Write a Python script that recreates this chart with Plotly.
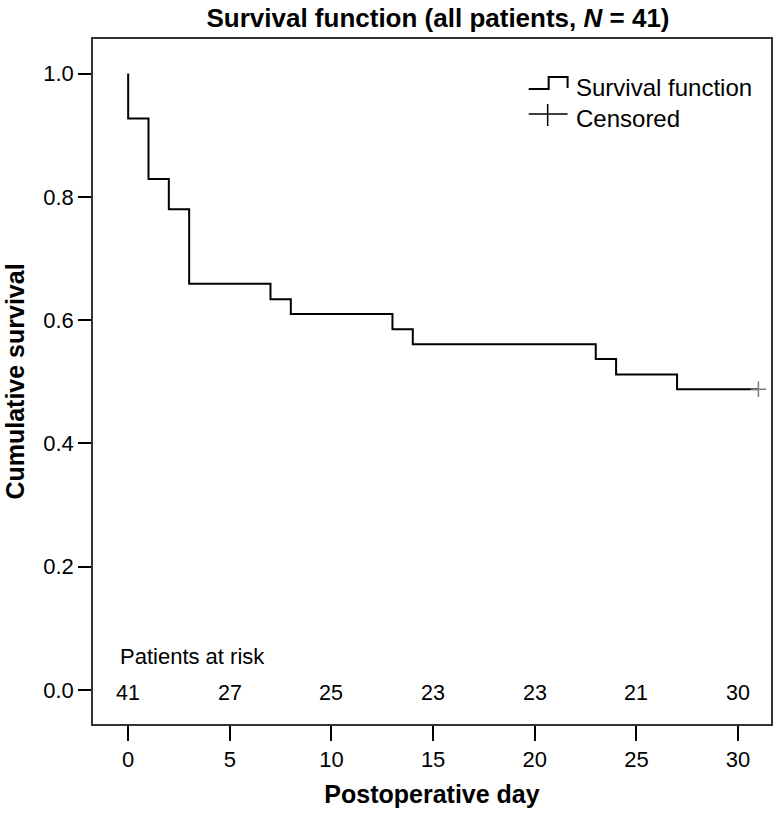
import plotly.graph_objects as go

# Data
days = [0, 0, 1, 2, 3, 7, 8, 13, 14, 23, 24, 27, 31]
survival = [1.0, 0.927, 0.829, 0.780, 0.659, 0.634, 0.610, 0.585, 0.561, 0.537, 0.512, 0.488, 0.488]
censored_days = [31]
censored_surv = [0.488]
risk_days = [0, 5, 10, 15, 20, 25, 30]
risk_counts = ["41", "27", "25", "23", "23", "21", "30"]
x_ticks = [0, 5, 10, 15, 20, 25, 30]
y_ticks = [0.0, 0.2, 0.4, 0.6, 0.8, 1.0]

FONT = "Liberation Sans, Arial, Helvetica, sans-serif"

# plot-area geometry in pixels
L, R, T, B = 93, 773, 39, 724
W, H = 780, 813

fig = go.Figure()
fig.add_trace(go.Scatter(x=days, y=survival, mode="lines", line=dict(shape="hv", color="black", width=2),
                         showlegend=False, hoverinfo="skip"))
fig.add_trace(go.Scatter(x=censored_days, y=censored_surv, mode="markers",
                         marker=dict(symbol="cross-thin", size=11, line=dict(color="#7a7a7a", width=1.5)),
                         showlegend=False, hoverinfo="skip"))

# Patients at risk
for d, c in zip(risk_days, risk_counts):
    fig.add_annotation(x=d, y=0, xref="x", yref="y", text=c, showarrow=False, yshift=-3,
                       xanchor="center", yanchor="middle", font=dict(family=FONT, size=21.5, color="black"))
fig.add_annotation(x=-0.5, y=0.055, xref="x", yref="y", text="Patients at risk", showarrow=False,
                   xanchor="left", yanchor="middle", font=dict(family=FONT, size=22, color="black"))

# Legend (drawn manually)
def px2paper(px, py):
    return (px - L) / (R - L), (B - py) / (B - T)

pts = [(530, 89), (550, 89), (550, 77), (569, 77), (569, 88)]
path = ""
for i, (a, b) in enumerate(pts):
    xx, yy = px2paper(a, b)
    path += ("M" if i == 0 else "L") + f"{xx},{yy} "
fig.add_shape(type="path", path=path, xref="paper", yref="paper", line=dict(color="black", width=2))
x0, y0 = px2paper(530, 114)
x1, _ = px2paper(569, 114)
fig.add_shape(type="line", x0=x0, x1=x1, y0=y0, y1=y0, xref="paper", yref="paper", line=dict(color="black", width=1.5))
xc, ya = px2paper(549, 104)
_, yb = px2paper(549, 126)
fig.add_shape(type="line", x0=xc, x1=xc, y0=ya, y1=yb, xref="paper", yref="paper", line=dict(color="black", width=1.5))
tx, ty1 = px2paper(575, 87)
_, ty2 = px2paper(575, 118)
fig.add_annotation(x=tx, y=ty1, xref="paper", yref="paper", text="Survival function", showarrow=False,
                   xanchor="left", yanchor="middle", font=dict(family=FONT, size=24, color="black"))
fig.add_annotation(x=tx, y=ty2, xref="paper", yref="paper", text="Censored", showarrow=False,
                   xanchor="left", yanchor="middle", font=dict(family=FONT, size=24, color="black"))

fig.update_layout(
    width=W, height=H,
    margin=dict(l=L, r=W - R, t=T, b=H - B, pad=0),
    plot_bgcolor="white", paper_bgcolor="white",
    title=dict(text="<b>Survival function (all patients, <i>N</i> = 41)</b>", x=438 / W, xanchor="center",
               y=1 - 18 / H, yanchor="middle", font=dict(family=FONT, size=26, color="black")),
    xaxis=dict(range=[-1.73, 31.62], tickvals=x_ticks, ticks="outside", ticklen=15, tickwidth=1.5,
               tickcolor="black", showline=True, linecolor="#333333", linewidth=1.5, mirror=True,
               showgrid=False, zeroline=False,
               tickfont=dict(family=FONT, size=22, color="black"),
               title=dict(text="<b>Postoperative day</b>", font=dict(family=FONT, size=25, color="black"), standoff=14)),
    yaxis=dict(range=[-0.0551, 1.056], tickvals=y_ticks, tickformat=".1f", ticks="outside", ticklen=13, tickwidth=1.5,
               tickcolor="black", showline=True, linecolor="#333333", linewidth=1.5, mirror=True,
               showgrid=False, zeroline=False,
               tickfont=dict(family=FONT, size=22, color="black"),
               title=dict(text="<b>Cumulative survival</b>", font=dict(family=FONT, size=25, color="black"), standoff=12)),
)

fig.write_html("out.html", config={"displayModeBar": False},
               post_script="document.body.style.margin='0';document.body.style.overflow='hidden';")
